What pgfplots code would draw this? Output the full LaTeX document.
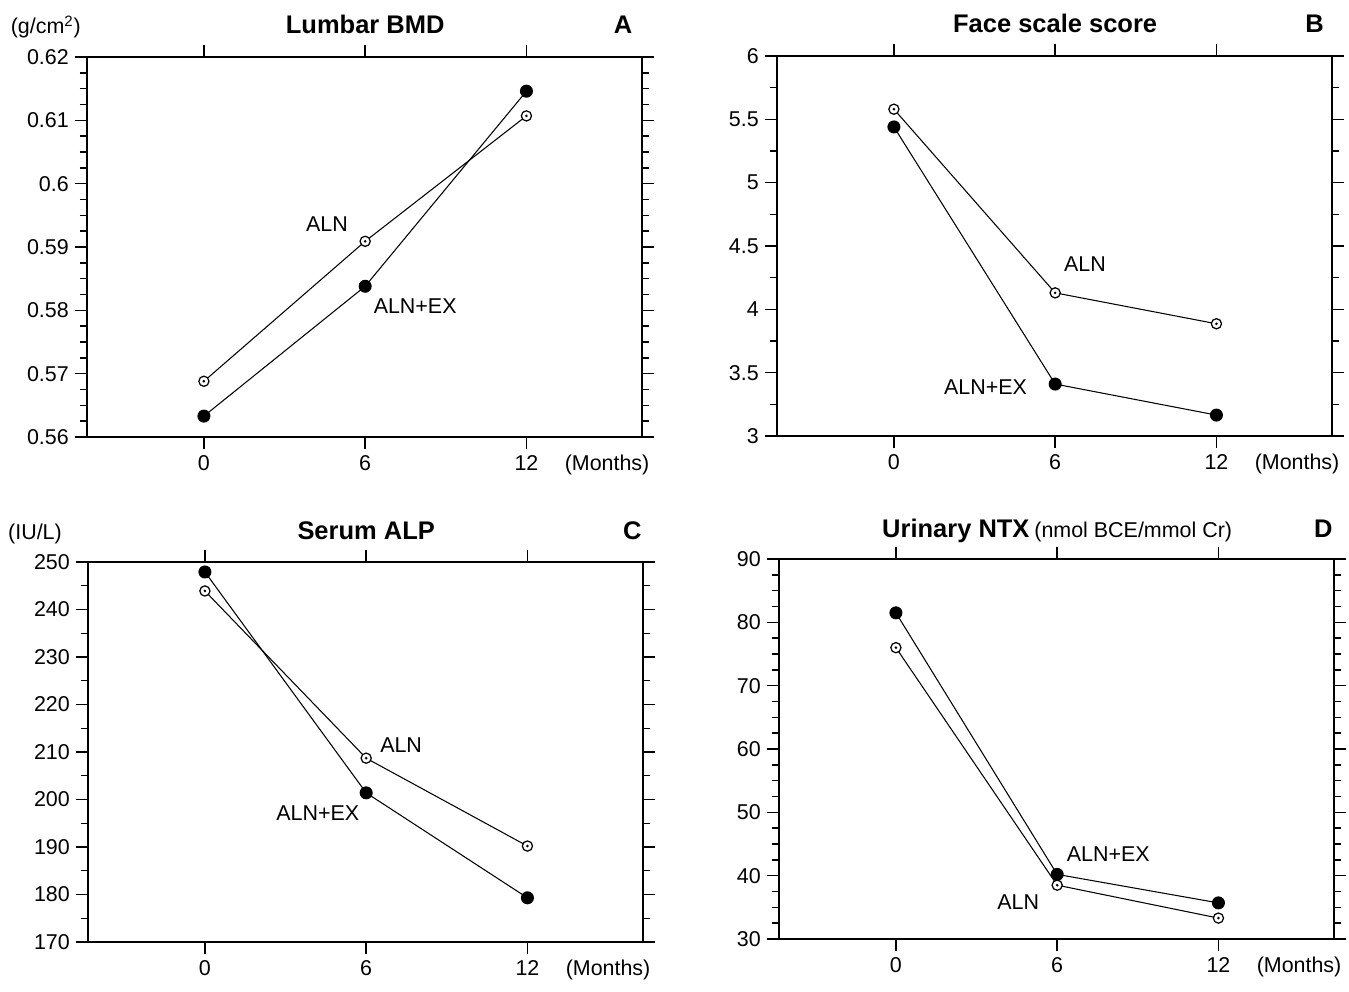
\documentclass[border=0pt]{standalone}
\usepackage{fontspec}
\setmainfont{Liberation Sans}
\usepackage{pgfplots}
\pgfplotsset{compat=1.18}

% open circle with a dot in the middle
\pgfdeclareplotmark{odot}{%
  \pgfpathcircle{\pgfpointorigin}{\pgfplotmarksize}%
  \pgfsetfillcolor{white}\pgfusepathqfillstroke
  \pgfpathcircle{\pgfpointorigin}{0.28\pgfplotmarksize}%
  \pgfsetfillcolor{black}\pgfusepathqfill}

\newcommand{\tl}{\fontsize{12.2}{14}\selectfont}
\newcommand{\ttl}{\fontsize{14.5}{16}\selectfont\bfseries}

\pgfplotsset{
  panel/.style={
    scale only axis, width=11.1cm, height=7.6cm,
    xmin=-4.35, xmax=16.3,
    xtick={0,6,12},
    extra x ticks={15}, extra x tick labels={(Months)},
    extra x tick style={major tick style={draw=none}},
    tick align=outside, xtick pos=both, ytick pos=both,
    yticklabel pos=left, xticklabel pos=bottom,
    major tick length=0.24cm, minor tick length=0.14cm,
    every tick/.style={line width=0.8pt},
    axis line style={line width=1.1pt},
    tick label style={font=\tl},
    /pgf/number format/assume math mode=true,
    clip=false,
    every axis plot/.append style={black, line width=0.6pt},
  },
  aln/.style={mark=odot, mark size=2.9pt, mark options={line width=0.7pt}},
  alnex/.style={mark=*, mark size=3.4pt},
}

\begin{document}
\begin{tikzpicture}
\path[use as bounding box] (0,0) rectangle (26.98,-19.84);

% A: lumbar BMD
\begin{axis}[panel, at={(1.74cm,-1.14cm)}, anchor=north west,
  ymin=0.56, ymax=0.62, ytick={0.56,0.57,...,0.62}, minor y tick num=3,
  yticklabel style={/pgf/number format/fixed, /pgf/number format/precision=2}]
  \addplot[aln] coordinates {(0,0.5688) (6,0.5909) (12,0.6107)};
  \addplot[alnex] coordinates {(0,0.5633) (6,0.5838) (12,0.6146)};
  \node[font=\tl] at (axis cs:4.58,0.5936) {ALN};
  \node[font=\tl] at (axis cs:7.86,0.5806) {ALN+EX};
  \node[font=\ttl, anchor=base] at (axis cs:6,0.62) [yshift=0.46cm] {Lumbar BMD};
  \node[font=\ttl, anchor=base] at (axis cs:15.6,0.62) [yshift=0.46cm] {A};
  \node[font=\tl, anchor=base east] at (rel axis cs:0,1) [yshift=0.46cm] {(g/cm\textsuperscript{2})};
\end{axis}

% B: face scale score
\begin{axis}[panel, at={(15.54cm,-1.12cm)}, anchor=north west,
  ymin=3, ymax=6, ytick={3,3.5,...,6}, minor y tick num=1]
  \addplot[aln] coordinates {(0,5.58) (6,4.13) (12,3.886)};
  \addplot[alnex] coordinates {(0,5.44) (6,3.41) (12,3.165)};
  \node[font=\tl] at (axis cs:7.11,4.357) {ALN};
  \node[font=\tl] at (axis cs:3.41,3.382) {ALN+EX};
  \node[font=\ttl, anchor=base] at (axis cs:6,6) [yshift=0.46cm] {Face scale score};
  \node[font=\ttl, anchor=base] at (axis cs:15.65,6) [yshift=0.46cm] {B};
\end{axis}

% C: serum ALP
\begin{axis}[panel, at={(1.76cm,-11.24cm)}, anchor=north west,
  ymin=170, ymax=250, ytick={170,180,...,250}, minor y tick num=1]
  \addplot[aln] coordinates {(0,243.9) (6,208.7) (12,190.2)};
  \addplot[alnex] coordinates {(0,247.9) (6,201.4) (12,179.3)};
  \node[font=\tl] at (axis cs:7.3,211.4) {ALN};
  \node[font=\tl] at (axis cs:4.2,197.05) {ALN+EX};
  \node[font=\ttl, anchor=base] at (axis cs:6,250) [yshift=0.46cm] {Serum ALP};
  \node[font=\ttl, anchor=base] at (axis cs:15.9,250) [yshift=0.46cm] {C};
  \node[font=\tl, anchor=base east] at (rel axis cs:0,1) [xshift=-0.4cm, yshift=0.46cm] {(IU/L)};
\end{axis}

% D: urinary NTX
\begin{axis}[panel, at={(15.58cm,-11.18cm)}, anchor=north west,
  ymin=30, ymax=90, ytick={30,40,...,90}, minor y tick num=3]
  \addplot[aln] coordinates {(0,76.0) (6,38.5) (12,33.3)};
  \addplot[alnex] coordinates {(0,81.5) (6,40.2) (12,35.7)};
  \node[font=\tl] at (axis cs:7.9,43.4) {ALN+EX};
  \node[font=\tl] at (axis cs:4.55,35.75) {ALN};
  \node[anchor=base] at (axis cs:6,90) [yshift=0.44cm] {{\ttl Urinary NTX} {\tl (nmol BCE/mmol Cr)}};
  \node[font=\ttl, anchor=base] at (axis cs:15.9,90) [yshift=0.44cm] {D};
\end{axis}
\end{tikzpicture}
\end{document}
